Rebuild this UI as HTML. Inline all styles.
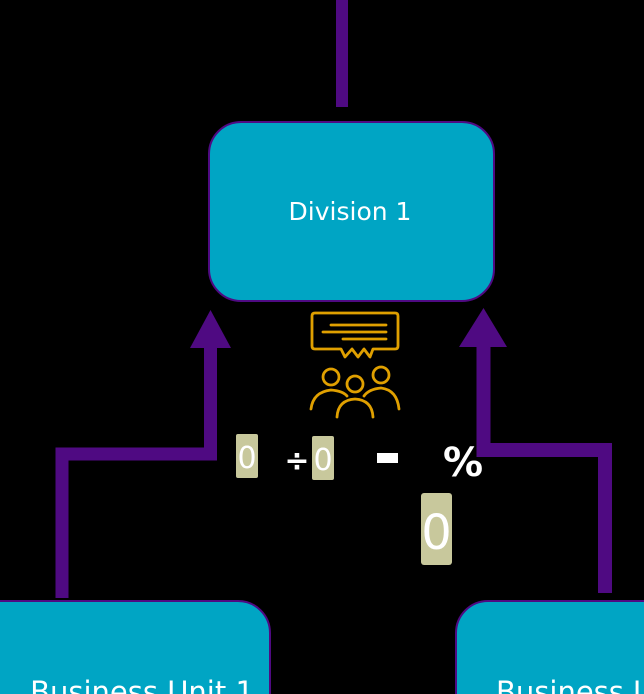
<!DOCTYPE html>
<html><head><meta charset="utf-8"><style>
html,body{margin:0;padding:0;background:#000;width:644px;height:694px;overflow:hidden}
svg{display:block}
text{font-family:"DejaVu Sans","Liberation Sans",sans-serif}
</style></head><body>
<svg width="644" height="694" viewBox="0 0 644 694" xmlns="http://www.w3.org/2000/svg">
<rect width="644" height="694" fill="#000"/>
<line x1="342" y1="0" x2="342" y2="107" stroke="#4f0a82" stroke-width="12"/>
<rect x="209" y="122" width="285" height="179" rx="32" fill="#00a5c4" stroke="#4f0a82" stroke-width="2"/>
<text x="350" y="220" fill="#fff" font-size="25" text-anchor="middle">Division 1</text>
<polyline points="62,598 62,454 210.5,454 210.5,345" fill="none" stroke="#4f0a82" stroke-width="13"/>
<polygon points="210.5,310 190,348 231,348" fill="#4f0a82"/>
<polyline points="605,593 605,450 483.5,450 483.5,345" fill="none" stroke="#4f0a82" stroke-width="14"/>
<polygon points="483.5,308 459,347 507,347" fill="#4f0a82"/>
<rect x="-40" y="601" width="310" height="140" rx="32" fill="#00a5c4" stroke="#4f0a82" stroke-width="2"/>
<text x="142" y="702" fill="#fff" font-size="29" text-anchor="middle">Business Unit 1</text>
<rect x="456" y="601" width="260" height="140" rx="32" fill="#00a5c4" stroke="#4f0a82" stroke-width="2"/>
<text x="496" y="702" fill="#fff" font-size="29">Business Unit 2</text>
<g fill="none" stroke="#e0a000" stroke-width="2.8" stroke-linecap="round" stroke-linejoin="round">
<path d="M315,313 H395 Q398,313 398,316 V346 Q398,349 395,349 H373 L370,357 L364,349 L358,357 L352,349 L345,357 L341,349 H315 Q312,349 312,346 V316 Q312,313 315,313 Z"/>
<line x1="331" y1="325" x2="386" y2="325"/>
<line x1="323" y1="332" x2="386" y2="332"/>
<line x1="343" y1="339" x2="386" y2="339"/>
<circle cx="331" cy="377" r="8"/>
<circle cx="381" cy="375" r="8"/>
<circle cx="355" cy="384" r="8"/>
<path d="M311,409 Q313,392 331,390 Q343,391 347,396"/>
<path d="M399,409 Q397,390 381,388 Q369,389 364,396"/>
<path d="M337,417 Q338,400 355,399 Q372,400 373,417"/>
</g>
<rect x="236" y="434" width="22" height="44" rx="2" fill="#c8c89c"/>
<text x="247" y="468" fill="#fff" font-size="30" text-anchor="middle" font-family="Liberation Sans">0</text>
<text x="297" y="471" fill="#fff" font-size="30" text-anchor="middle" font-weight="bold">÷</text>
<rect x="312" y="436" width="22" height="44" rx="2" fill="#c8c89c"/>
<text x="323" y="470" fill="#fff" font-size="30" text-anchor="middle" font-family="Liberation Sans">0</text>
<rect x="377" y="453" width="21" height="10" fill="#fff"/>
<text x="463" y="476" fill="#fff" font-size="40" text-anchor="middle" font-weight="bold">%</text>
<rect x="421" y="493" width="31" height="72" rx="3" fill="#c8c89c"/>
<text x="436.5" y="549" fill="#fff" font-size="48" text-anchor="middle" font-family="Liberation Sans">0</text>
</svg>
</body></html>
